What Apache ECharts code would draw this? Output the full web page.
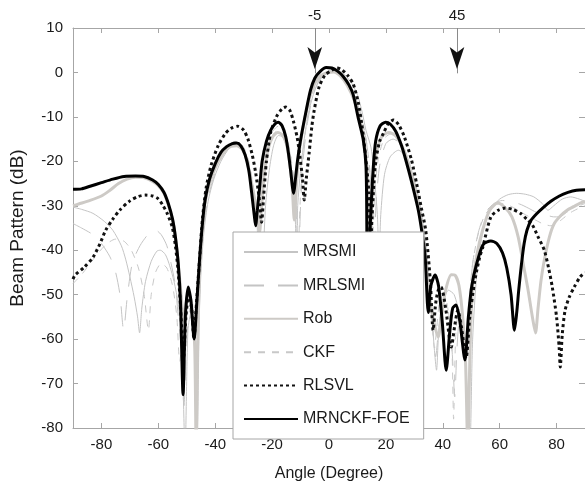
<!DOCTYPE html>
<html>
<head>
<meta charset="utf-8">
<script src="https://cdn.jsdelivr.net/npm/echarts@6/dist/echarts.min.js"></script>
<style>
  html, body { margin: 0; padding: 0; background: #fff; }
  #chart { width: 585px; height: 491px; }
</style>
</head>
<body>
<div id="chart"></div>
<script>
// Beam pattern (dB) versus angle (degree) for six beamformers.
const xTicks = [-80, -60, -40, -20, 0, 20, 40, 60, 80];
const arrowAngles = [-5, 45];      // signal / interference directions marked on the top axis
const arrowTipDb = 0.8;            // level where the arrow heads sit

const mrsmi = [
  [-90,-30.3],[-87,-30.8],[-83,-31.7],[-79,-33.5],[-76,-35.5],[-73,-39],[-71.5,-42],[-70,-46],
  [-68.5,-50.5],[-67.3,-55],[-66.6,-58.6],[-65.8,-53],[-64.5,-47],[-62.5,-42.5],[-60.5,-40.2],
  [-59.3,-40],[-57.5,-41],[-56,-43.5],[-54.5,-47],[-53,-52],[-51.8,-60],[-50.6,-85],[-49.6,-58],
  [-48.5,-54],[-47.2,-60],[-46.4,-85],[-45.6,-55],[-45,-45],[-44,-36],[-42.5,-29],[-40.5,-24],
  [-38,-20],[-35,-17],[-33,-16.3],[-31,-16.8],[-29.5,-18.5],[-28,-22],[-26.5,-27],[-25.2,-33],
  [-24.2,-40],[-23.6,-55],[-23,-40],[-22.3,-30],[-21,-22],[-19.5,-16.5],[-17.8,-14.2],[-16.3,-14.5],
  [-15,-16.5],[-13.8,-20],[-12.8,-25],[-12,-30],[-11.5,-40],[-11,-30],[-10,-22],[-8.5,-14],
  [-7,-8.5],[-5,-4],[-3,-1.5],[0,0],[3,0.4],[5.5,-0.5],[8,-2.5],[10,-5],[11.5,-8.5],[13,-13],
  [14.8,-17],[16,-24],[17,-32],[17.6,-42],[18.2,-32],[19.5,-23],[21.5,-19],[24.4,-17.5],[27,-19],
  [29,-22],[31.5,-28],[33.5,-36],[35,-45],[36,-53],[37,-62],[37.8,-67],[38.6,-58],[40,-52],
  [42,-49],[44,-50],[46,-55],[48,-65],[49.5,-85],[50.5,-60],[52,-45],[54,-36],[56.5,-31],
  [60,-28.5],[63,-27.5],[66,-27.2],[69,-27.4],[72,-28],[75,-29.5],[77,-31],[79,-30],[82,-28.5],
  [85,-28],[88,-28.5],[90,-29]
];

const mrlsmi = [
  [-90,-34],[-87,-35],[-83,-36.5],[-80,-38.5],[-77,-41.5],[-75,-45],[-73.5,-50],[-72.2,-58],
  [-71,-51],[-69.5,-44],[-68,-41],[-66,-38.5],[-63,-36],[-61,-35.5],[-59,-36.5],[-57,-39],
  [-55.5,-43],[-54,-48],[-53,-55],[-52,-62],[-51,-75],[-50,-60],[-48.8,-53],[-47.5,-58],
  [-46.5,-70],[-45.5,-50],[-44.5,-38],[-43,-30],[-41,-24.5],[-38,-19.5],[-35,-16.8],[-33,-16],
  [-31,-16.5],[-29.5,-18],[-28,-21.5],[-26.8,-26],[-25.5,-32],[-24.8,-40],[-24.2,-32],[-23.2,-24],
  [-21.5,-17],[-19.5,-13.8],[-17.5,-13],[-16,-13.8],[-14.5,-16],[-13.2,-20],[-12,-26],[-11.2,-33],
  [-10.6,-40],[-10,-30],[-9,-19],[-7.5,-11],[-5.5,-5],[-3.5,-1.8],[-1,0],[2,0.3],[4.5,-0.6],
  [7,-2.8],[9.5,-6],[11.5,-10.5],[13,-15],[14.2,-21],[15.2,-30],[15.8,-42],[16.5,-30],[17.8,-21],
  [20,-16],[22.5,-15],[25,-16],[27.5,-19],[29.5,-23],[31.5,-29],[33,-35],[34.5,-43],[35.5,-50],
  [36.5,-58],[37.5,-64],[38.2,-60],[39.5,-53],[41,-52],[42.5,-56],[43.5,-65],[44.2,-73],[45,-62],
  [46,-55],[47.2,-58],[48,-66],[49,-55],[50.5,-43],[52.5,-36],[55,-31.5],[58,-29.5],[61,-28.8],
  [64,-29.2],[67,-29.6],[70,-30.5],[73,-31.5],[76,-32],[79,-32.5],[81,-32.5],[83.5,-31.5],
  [86,-30.5],[90,-29.5]
];

const rob = [
  [-90,-30],[-88,-29.6],[-84,-28.8],[-80,-27.8],[-77,-26.5],[-74,-25],[-71,-24],[-68,-23.6],
  [-65,-23.7],[-62,-24.5],[-60,-25.5],[-58,-27.2],[-56.5,-29.8],[-55,-33.2],[-54,-37],[-53,-43],
  [-52,-50],[-51,-56],[-49.5,-49.5],[-48.3,-52],[-47.2,-62],[-46.7,-85],[-46.2,-62],[-45.5,-45],
  [-44.5,-35],[-43.5,-29],[-42,-25],[-40,-21.5],[-37,-18],[-34.5,-16.6],[-32.5,-16.5],[-30.5,-17.3],
  [-29,-19.5],[-27.5,-24],[-26,-29],[-25,-33],[-24.4,-36],[-23.8,-31],[-22.8,-23],[-21.5,-17.5],
  [-19.8,-14.5],[-18,-13.5],[-16.5,-14],[-15,-16],[-14,-19.5],[-13,-25],[-12.2,-33.2],[-11.4,-25],
  [-10.5,-18],[-9,-12],[-7,-6],[-5,-2.5],[-3,-0.8],[-0.5,0],[1.7,0.1],[4,-0.8],[6.5,-3],[9,-6.5],
  [11,-11],[12.5,-16],[13.6,-24],[14.3,-40],[14.8,-33],[15.5,-24],[16.5,-18.5],[18.5,-14.5],
  [21,-13.5],[23.5,-14.3],[26,-17],[28.5,-22],[30.5,-27],[32,-32],[33.5,-40],[34.8,-48],
  [36.5,-55],[38.4,-59.5],[39.5,-55],[41,-49],[43,-45.5],[44.3,-45.6],[45.7,-48],[47,-55],
  [48,-65],[48.8,-85],[49.6,-62],[50.5,-48],[52,-41],[54,-35.5],[56.5,-31],[59.3,-29.4],[62,-30.5],
  [64.3,-32.5],[66.5,-37],[68.5,-43.8],[70,-49],[71.5,-55],[72.6,-58.6],[73.5,-53],[74.5,-47],
  [75.7,-42.2],[77.5,-37],[79.2,-34],[81.5,-32.2],[83.7,-31],[86,-30.2],[88.3,-29.4],[90,-29]
];

const ckf = [
  [-90,-47.5],[-87,-45.5],[-84,-43],[-81,-40.5],[-78,-38.5],[-75,-37.5],[-72,-38],[-69.5,-40],
  [-67,-44],[-65,-50],[-63.5,-58],[-62.5,-50],[-61,-45],[-59,-43],[-57,-44],[-55,-48],[-53.5,-55],
  [-52.5,-65],[-51.5,-60],[-50,-55],[-48.5,-52],[-47.5,-56],[-46.8,-66],[-46,-52],[-45,-40],
  [-43.5,-30],[-41.5,-24],[-38.5,-19],[-35.5,-16.5],[-33,-15.5],[-31,-16],[-29.5,-17.5],[-28,-20.5],
  [-26.8,-25],[-25.5,-31],[-24.6,-38],[-24,-31],[-23,-23],[-21.5,-16.5],[-19.5,-13],[-17.5,-12],
  [-16,-12.8],[-14.6,-15],[-13.4,-19],[-12.3,-25],[-11.4,-33],[-10.8,-40],[-10.2,-30],[-9.2,-19],
  [-7.8,-11],[-6,-5],[-4,-2],[-1.5,0],[1.5,0.6],[4,0],[6.5,-2],[9,-5],[11,-9],[12.5,-13],
  [13.8,-18.5],[14.8,-26],[15.4,-38],[16,-28],[17.2,-20],[19.3,-15],[21.8,-13.8],[24.3,-14.8],
  [26.8,-17.6],[29,-22],[31,-27],[32.5,-32],[34,-39],[35,-46],[36,-54],[37.1,-62],[37.8,-58],
  [39,-51],[40.5,-50],[42,-54],[43.2,-62],[43.8,-78],[44.5,-60],[45.5,-54],[46.8,-57],[47.8,-63],
  [48.8,-55],[50.3,-44],[52.2,-37],[54.5,-32.5],[57.5,-30],[60.5,-29.5],[63.5,-30],[66.5,-31],
  [69,-32],[72,-33],[75,-34],[78,-34.5],[80,-34],[82,-33],[85,-31.5],[88,-30.5],[90,-30]
];

const rlsvl = [
  [-90,-46.5],[-89.3,-45.6],[-86,-43.8],[-83,-41.6],[-80.5,-38.5],[-78.5,-35.5],[-76,-33],
  [-73.6,-31],[-70,-28.9],[-67,-27.9],[-64.5,-27.6],[-62,-27.8],[-60.3,-28.3],[-58.5,-29.8],
  [-56.9,-31.7],[-55.1,-34.8],[-54,-39],[-53,-45],[-52,-55],[-51.2,-65],[-50.3,-55],[-49.3,-50],
  [-48.3,-53],[-47.5,-60],[-46.6,-52],[-45.5,-42],[-44.5,-33],[-43.2,-26],[-41.5,-21],[-39,-16.5],
  [-36.5,-13.8],[-34.5,-12.6],[-32.1,-12.1],[-30,-13],[-28.5,-15],[-27,-18.5],[-25.8,-22.5],
  [-24.6,-28],[-23.7,-33.7],[-23,-28],[-22,-20],[-20.5,-13.5],[-18.5,-10],[-16.5,-8.2],
  [-15.2,-7.8],[-13.8,-8.5],[-12.5,-11],[-11.2,-14.6],[-10.2,-19],[-9.3,-24],[-8.7,-28.7],
  [-8,-24],[-7,-18.2],[-6,-12],[-5.2,-8.5],[-3.5,-3.3],[-1.5,-0.7],[1,0.5],[2.8,1.0],[4.5,0.6],
  [6.5,-0.6],[8.5,-2.6],[10.2,-6.5],[11.5,-11.5],[12.8,-18.5],[14,-27],[14.6,-40],[15.1,-33],[15.8,-25],
  [16.5,-19.7],[17.8,-15.5],[19.2,-13.6],[21,-11.4],[22.7,-10.7],[24.5,-11.8],[26.5,-14.5],
  [29,-19.7],[30.8,-25],[32.4,-30.3],[34,-35.5],[35.6,-46.7],[36.6,-58],[37.5,-52],[38.4,-49],
  [39.4,-48.3],[41,-53],[43,-61.8],[44.2,-57],[45.3,-53.5],[46.5,-57],[48.2,-64.3],[49.5,-55],
  [51.3,-46.7],[53,-41.5],[54,-39.5],[56.9,-32.5],[59.5,-31],[62,-30.5],[64.5,-30.8],[67.3,-31.7],
  [69.5,-33],[71.5,-34.3],[73.5,-37],[75.7,-40],[77.2,-44],[78.5,-48.3],[80,-55],[80.9,-61.8],
  [81.3,-66.3],[82,-59],[83,-53.5],[84.5,-50.5],[86.2,-48.3],[88.3,-46],[90,-45]
];

const mrnckfFoe = [
  [-90,-26.3],[-87,-26.2],[-84,-25.6],[-80,-24.8],[-76,-24.0],[-72,-23.4],[-68,-23.3],[-65,-23.4],
  [-62,-24.2],[-60,-25.2],[-58,-27.0],[-56.5,-29.5],[-55,-33],[-54,-37],[-53,-43],[-52.2,-52],
  [-51.3,-72.5],[-50.5,-55],[-49.5,-48.3],[-48.6,-51],[-47.4,-60],[-46.5,-52],[-45.5,-42],
  [-44.5,-34],[-43.5,-28.5],[-42,-24],[-40,-20.5],[-38,-18],[-36,-16.7],[-34,-16],[-32.5,-15.9],
  [-31,-16.5],[-29.5,-18.5],[-28.2,-22],[-27.2,-27],[-26.3,-32],[-25.8,-34.5],[-25.2,-31],
  [-24.4,-26],[-23.5,-20],[-22,-15.5],[-20.5,-13],[-19,-11.6],[-17.8,-11.2],[-16.5,-12],
  [-15.2,-14.5],[-14.3,-18],[-13.5,-22],[-12.8,-26],[-12.4,-27.2],[-11.8,-24],[-11,-19.5],
  [-10,-15.2],[-8,-8.5],[-6.5,-4],[-5,-1.3],[-3,0.3],[-1,1.1],[1,1.0],[3,0.3],[5,-0.9],[7,-2.8],
  [8.5,-5],[10.2,-10],[12,-15],[13,-21],[13.3,-35],[13.5,-85],[13.9,-45],[14.6,-33],
  [15.5,-22],[16.4,-15.5],[18,-12],[19.9,-11.2],[21.5,-11.6],[23.5,-13.3],[25.5,-16.5],[27,-19.7],
  [29,-24.5],[31.4,-31],[32.8,-36.5],[33.8,-41.5],[34.9,-54],[35.8,-48],[37.3,-45.6],[38.5,-48],
  [39.8,-56],[41.2,-67],[42.5,-58],[43.5,-53],[44.7,-52.3],[46,-56],[47.8,-64.7],[49,-55],
  [50.2,-48],[51.6,-43.8],[54.1,-38.8],[56.9,-37.9],[59,-38.5],[61,-40.6],[62.5,-44],[64,-50],
  [65.2,-58],[66,-54],[66.7,-49],[67.6,-43.5],[68.6,-38.5],[69.6,-35.5],[71,-33.3],[73,-31.8],
  [75.5,-30.3],[78,-29],[81,-27.8],[84,-27],[87,-26.5],[90,-26.4]
];

const FONT = "'Liberation Sans', Arial, sans-serif";
const AXIS_GRAY = '#a6a6a6';
const TEXT = '#1a1a1a';

function lineSeries(name, data, color, width, type, z) {
  return {
    name: name,
    type: 'line',
    data: data,
    symbol: 'none',
    smooth: 0.25,
    z: z,
    lineStyle: { color: color, width: width, type: type, cap: 'butt' },
    itemStyle: { color: color },
    emphasis: { disabled: true },
    animation: false
  };
}

const series = [
  lineSeries('MRSMI', mrsmi, '#c4c4c4', 1, 'solid', 2),
  lineSeries('MRLSMI', mrlsmi, '#c4c4c4', 1, [20, 14], 2),
  lineSeries('Rob', rob, '#cdcac6', 3, 'solid', 3),
  lineSeries('CKF', ckf, '#c8c8c8', 1, [7, 7], 2),
  lineSeries('RLSVL', rlsvl, '#111111', 3, [3, 3], 4),
  lineSeries('MRNCKF-FOE', mrnckfFoe, '#000000', 3, 'solid', 5)
];

// direction markers: thin drop line from the top axis ending in an arrow head
series[5].markLine = {
  silent: true,
  symbol: ['none', 'none'],
  label: { show: false },
  lineStyle: { color: '#8a8a8a', width: 1, type: 'solid' },
  animation: false,
  data: arrowAngles.map(a => [{ coord: [a, 10] }, { coord: [a, arrowTipDb - 1] }])
};
series[5].markPoint = {
  silent: true,
  symbol: 'arrow',
  symbolSize: [11, 22],
  symbolRotate: 180,
  label: { show: false },
  itemStyle: { color: '#111111' },
  animation: false,
  data: arrowAngles.map(a => ({ coord: [a, arrowTipDb] }))
};

const axisLine = { show: true, onZero: false, lineStyle: { color: AXIS_GRAY, width: 1 } };

const chart = echarts.init(document.getElementById('chart'), null, { renderer: 'canvas' });
chart.setOption({
  backgroundColor: '#ffffff',
  animation: false,
  grid: { left: 72, top: 28, width: 516, height: 400, containLabel: false },
  legend: {
    data: ['MRSMI', 'MRLSMI', 'Rob', 'CKF', 'RLSVL', 'MRNCKF-FOE'],
    orient: 'vertical',
    left: 233,
    top: 232,
    padding: [12, 14, 12, 10],
    itemWidth: 54,
    itemHeight: 14,
    itemGap: 17.4,
    backgroundColor: '#ffffff',
    borderColor: '#a6a6a6',
    borderWidth: 1,
    selectedMode: false,
    z: 20,
    itemStyle: { color: 'rgba(0,0,0,0)', borderWidth: 0, opacity: 0 },
    textStyle: { fontFamily: FONT, fontSize: 16, color: TEXT }
  },
  xAxis: [
    {
      type: 'value', position: 'bottom', min: -90, max: 90, interval: 10,
      name: 'Angle (Degree)', nameLocation: 'middle', nameGap: 38,
      nameTextStyle: { fontFamily: FONT, fontSize: 16, color: TEXT },
      axisLine: axisLine,
      axisTick: { inside: true, length: 5, customValues: xTicks, lineStyle: { color: AXIS_GRAY } },
      axisLabel: { customValues: xTicks, fontFamily: FONT, fontSize: 15, color: TEXT, margin: 9 },
      splitLine: { show: false }
    },
    {
      type: 'value', position: 'top', min: -90, max: 90, interval: 10,
      axisLine: axisLine,
      axisTick: { inside: true, length: 5, customValues: xTicks, lineStyle: { color: AXIS_GRAY } },
      axisLabel: { customValues: arrowAngles, fontFamily: FONT, fontSize: 15, color: TEXT, margin: 5 },
      splitLine: { show: false }
    }
  ],
  yAxis: [
    {
      type: 'value', position: 'left', min: -80, max: 10, interval: 10,
      name: 'Beam Pattern (dB)', nameLocation: 'middle', nameGap: 46,
      nameTextStyle: { fontFamily: FONT, fontSize: 19, color: TEXT },
      axisLine: axisLine,
      axisTick: { show: true, inside: true, length: 5, lineStyle: { color: AXIS_GRAY } },
      axisLabel: { fontFamily: FONT, fontSize: 15, color: TEXT, margin: 10 },
      splitLine: { show: false }
    },
    {
      type: 'value', position: 'right', min: -80, max: 10, interval: 10,
      axisLine: axisLine,
      axisTick: { show: true, inside: true, length: 6, lineStyle: { color: AXIS_GRAY } },
      axisLabel: { show: false },
      splitLine: { show: false }
    }
  ],
  series: series
});
</script>
</body>
</html>
